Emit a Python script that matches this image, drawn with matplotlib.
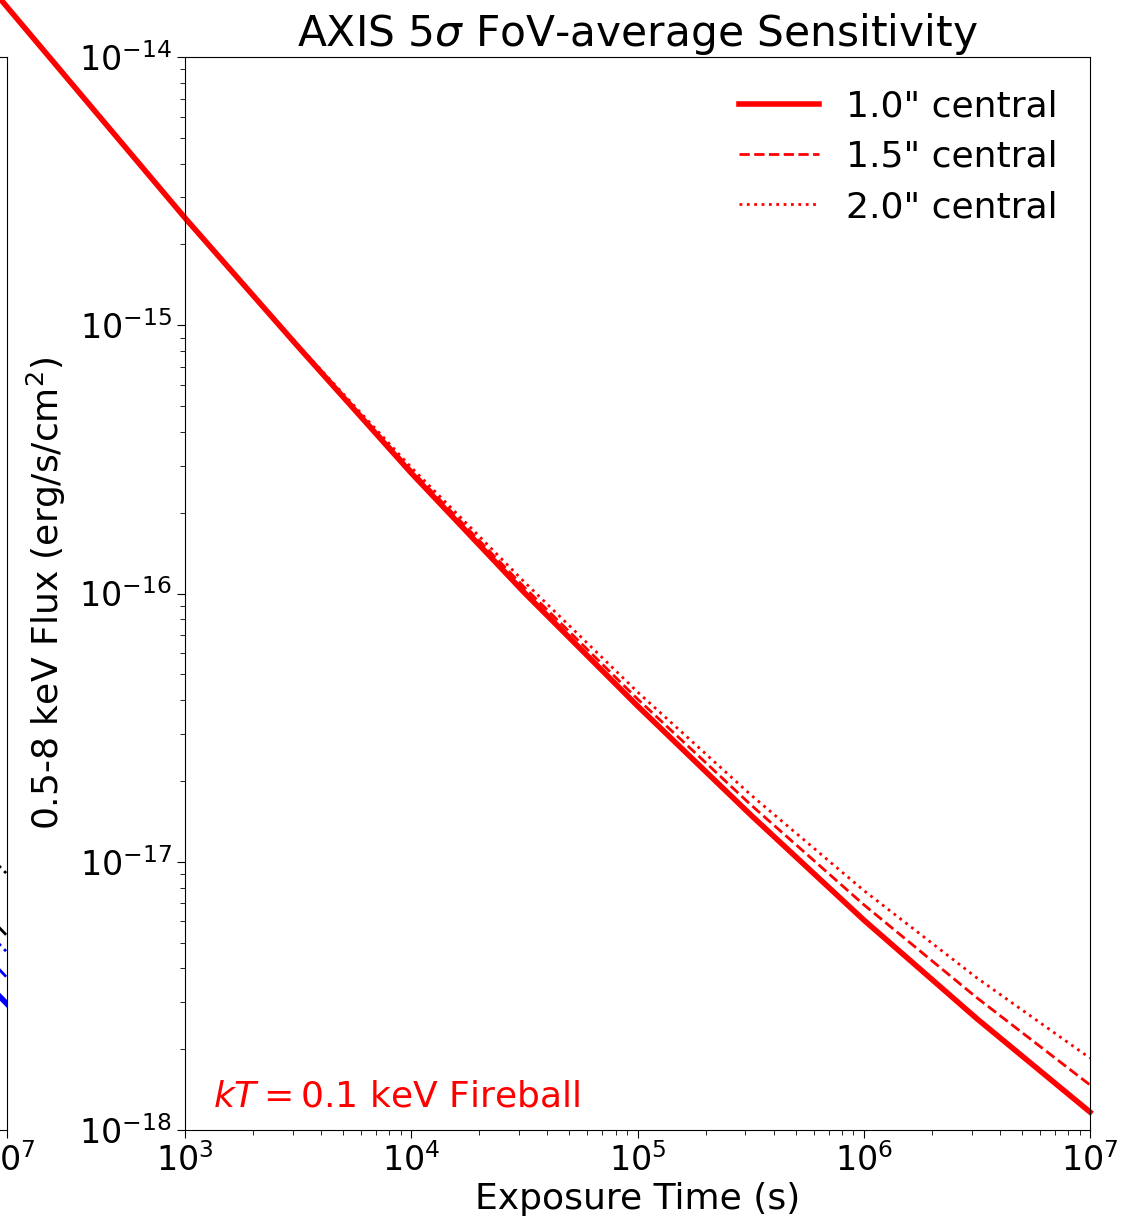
import matplotlib
matplotlib.use("Agg")
import matplotlib.pyplot as plt

# ---- data ----
exposure = [1e2, 1e3, 10**3.5, 1e4, 10**4.5, 1e5, 10**5.5, 1e6, 10**6.5, 1e7]
log_flux_10 = [-13.60, -14.600, -15.080, -15.551, -15.997, -16.419, -16.825, -17.217, -17.585, -17.933]
log_flux_15 = [-13.60, -14.600, -15.078, -15.540, -15.977, -16.393, -16.787, -17.160, -17.507, -17.832]
log_flux_20 = [-13.60, -14.598, -15.074, -15.530, -15.957, -16.367, -16.750, -17.107, -17.433, -17.732]
flux_10 = [10**v for v in log_flux_10]
flux_15 = [10**v for v in log_flux_15]
flux_20 = [10**v for v in log_flux_20]
labels = ['1.0" central', '1.5" central', '2.0" central']

# partial neighbouring panel (only its right edge is visible)
left_t = [1e6, 1e7]
left_black_dot = [6.5e-17, 9.0e-18]
left_black_dash = [4.0e-17, 5.3e-18]
left_blue_dot = [3.5e-17, 4.6e-18]
left_blue_dash = [2.8e-17, 3.7e-18]
left_blue_solid = [2.2e-17, 2.95e-18]

W, H = 1127, 1225
fig = plt.figure(figsize=(W / 100, H / 100), dpi=100)

ax_l, ax_r = 185 / W, 1090 / W
ax_b, ax_t = 1 - 1130 / H, 1 - 57 / H
aw, ah = ax_r - ax_l, ax_t - ax_b

# neighbouring panel
axL = fig.add_axes([7 / W - aw, ax_b, aw, ah])
axL.set_xscale('log'); axL.set_yscale('log')
axL.set_xlim(1e3, 1e7); axL.set_ylim(1e-18, 1e-14)
axL.plot(left_t, left_black_dot, 'k:', lw=2)
axL.plot(left_t, left_black_dash, 'k--', lw=2)
axL.plot(left_t, left_blue_dot, 'b:', lw=2)
axL.plot(left_t, left_blue_dash, 'b--', lw=2)
axL.plot(left_t, left_blue_solid, 'b-', lw=4)
axL.set_xticks([1e3, 1e4, 1e5, 1e6, 1e7])
axL.set_yticks([])
axL.set_yticks([], minor=True)
axL.tick_params(axis='x', which='major', labelsize=24, length=6, direction='out')

# main panel
ax = fig.add_axes([ax_l, ax_b, aw, ah])
ax.set_xscale('log'); ax.set_yscale('log')
ax.plot(exposure, flux_10, color='red', ls='-', lw=4, label=labels[0], clip_on=False)
ax.plot(exposure, flux_15, color='red', ls='--', lw=2, label=labels[1], clip_on=False)
ax.plot(exposure, flux_20, color='red', ls=':', lw=2, label=labels[2], clip_on=False)
ax.set_xlim(1e3, 1e7)
ax.set_ylim(1e-18, 1e-14)
ax.set_xticks([1e3, 1e4, 1e5, 1e6, 1e7])
ax.set_yticks([1e-18, 1e-17, 1e-16, 1e-15, 1e-14])
ax.tick_params(axis='both', which='major', labelsize=24, length=6, direction='out')
ax.tick_params(axis='both', which='minor', length=3.5, direction='out')
ax.set_xlabel('Exposure Time (s)', fontsize=26, labelpad=3)
ax.set_ylabel('0.5-8 keV Flux (erg/s/cm$^2$)', fontsize=26, labelpad=8)
ax.set_title(r'AXIS 5$\sigma$ FoV-average Sensitivity', fontsize=30.5, pad=7)
ax.legend(loc='upper right', frameon=False, fontsize=26, handlelength=2.2,
          handletextpad=0.75, labelspacing=0.45)
ax.text(0.031, 0.015, r'$kT = 0.1$ keV Fireball', color='red', fontsize=26,
        transform=ax.transAxes, ha='left', va='bottom')

fig.savefig('out.png', dpi=100)
